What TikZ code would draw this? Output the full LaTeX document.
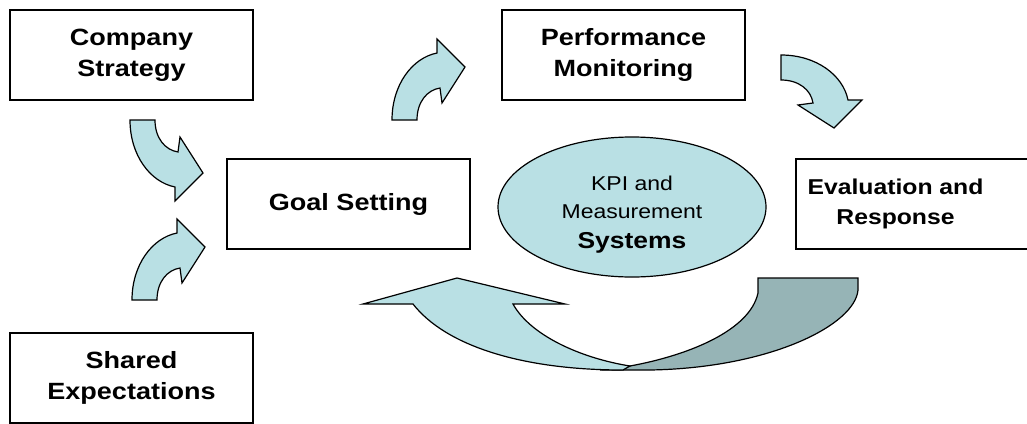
\documentclass[tikz,border=0pt]{standalone}
\usepackage{fontspec}
\setmainfont{Liberation Sans}[FakeStretch=1.15]
\usetikzlibrary{shapes.geometric}
\definecolor{lightc}{HTML}{B9E0E4}
\definecolor{darkc}{HTML}{96B4B6}
\tikzset{
  box/.style={draw=black, line width=1.3pt, rectangle, minimum width=243pt,
    minimum height=90pt, align=center, inner sep=0pt,
    font=\bfseries\fontsize{23.5}{31}\selectfont},
  blk/.style={fill=lightc, draw=black, line width=1.2pt, line join=miter},
  dblk/.style={fill=darkc, draw=black, line width=1.2pt, line join=miter},
}
\newcommand{\curvedarrowshape}{%
  (0,0) .. controls (0,35) and (20,62) .. (45,67) -- (45,81) -- (73,53)
  -- (50,17) -- (48,32) .. controls (35,30) and (25,18) .. (25,0) -- cycle}
\begin{document}
\begin{tikzpicture}[x=1pt,y=-1pt]
\clip (0,0) rectangle (1027,423);
\fill[white] (0,0) rectangle (1027,423);

% boxes
\node[box] (cs) at (131.5,55) {Company\\Strategy};
\node[box] (se) at (131.5,378) {Shared\\Expectations};
\node[box] (gs) at (348.5,204) {Goal Setting};
\node[box, font=\bfseries\fontsize{21.5}{30}\selectfont] (er) at (917.5,204)
  {\hspace*{-44pt}Evaluation and\\\hspace*{-44pt}Response};
\node[box] (pm) at (623.5,55) {Performance\\Monitoring};

% ellipse
\node[draw=black, line width=1.2pt, fill=lightc, ellipse, minimum width=268pt,
  minimum height=140pt, align=center, inner sep=0pt,
  font=\fontsize{20}{28}\selectfont] (kpi) at (632,207)
  {\rule{0pt}{30pt}KPI and\\\strut Measurement\\[2pt]
   {\bfseries\fontsize{23}{28}\selectfont Systems}};

% small curved arrows
\begin{scope}[shift={(130,120)}]
  \draw[blk] \curvedarrowshape;
\end{scope}
\begin{scope}[shift={(132,300)}, yscale=-1]
  \draw[blk] \curvedarrowshape;
\end{scope}
\begin{scope}[shift={(392,120)}, yscale=-1]
  \draw[blk] \curvedarrowshape;
\end{scope}
\begin{scope}[cm={0,-1,-1,0,(781,55)}]
  \draw[blk] \curvedarrowshape;
\end{scope}

% big U-turn arrow
\draw[dblk] (758,278) -- (858,278) -- (858,290)
  .. controls (855,325) and (770,368) .. (650,370) -- (600,370) -- (630,366)
  .. controls (690,355) and (750,330) .. (758,293) -- cycle;
\draw[blk] (363,304) -- (413,304)
  .. controls (445,345) and (520,370) .. (623,370) -- (630,366)
  .. controls (580,358) and (530,335) .. (513,304)
  -- (565,304) -- (457,278) -- cycle;
\end{tikzpicture}
\end{document}
